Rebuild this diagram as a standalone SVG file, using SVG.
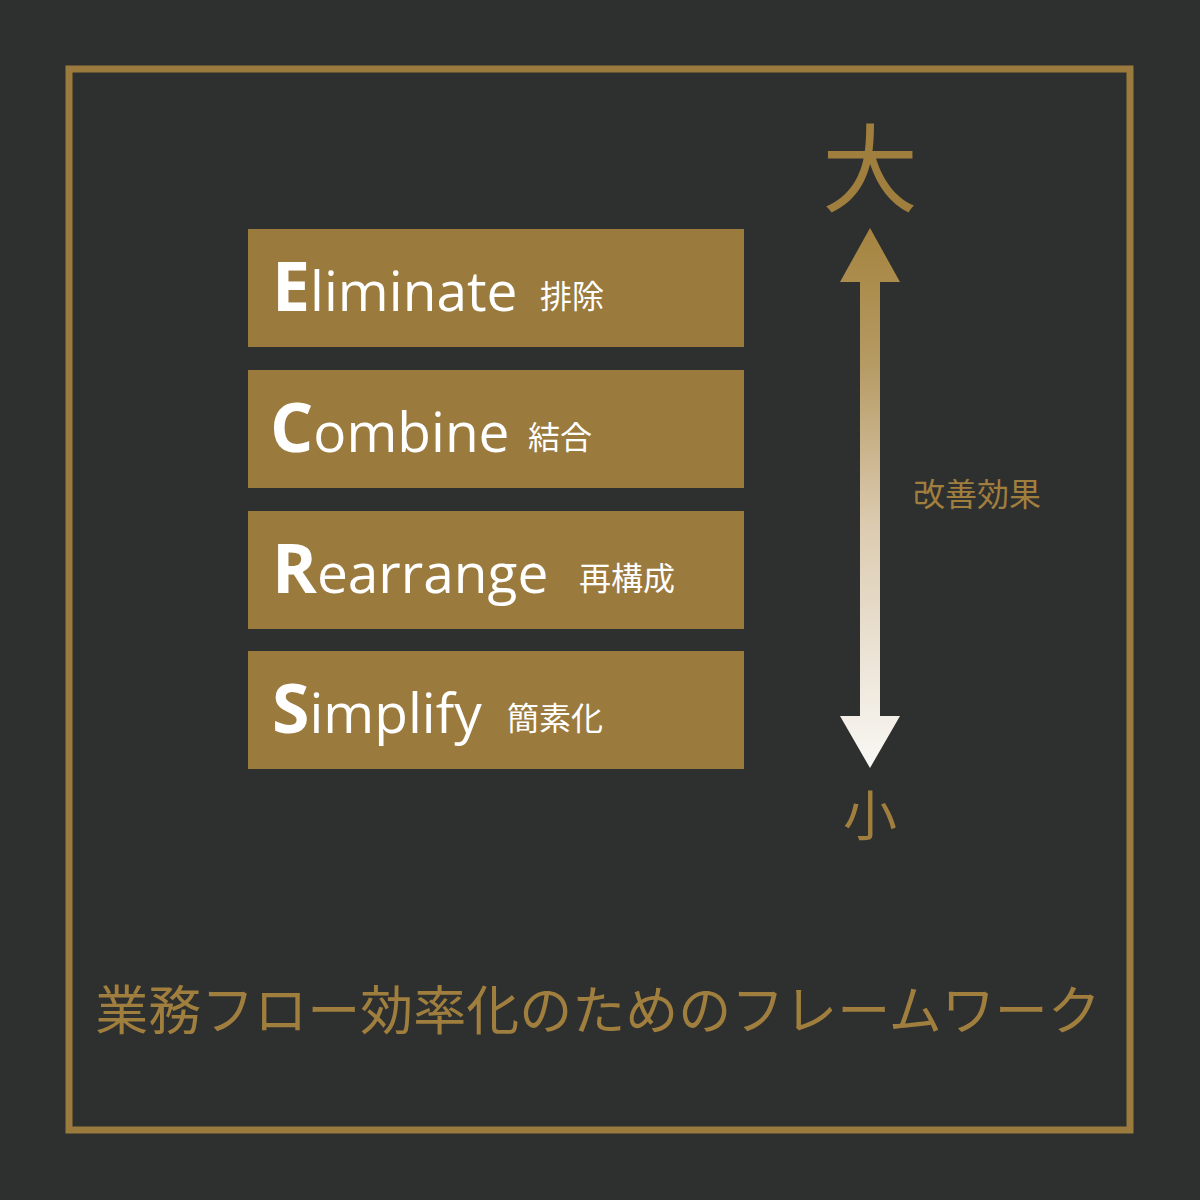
<svg xmlns="http://www.w3.org/2000/svg" width="1200" height="1200" viewBox="0 0 1200 1200">
<defs>
<style>
.box{fill:#9b7a3d}
.en{font-family:"Open Sans","Noto Sans",sans-serif;fill:#ffffff}
.cap{font-weight:bold;font-size:68px}
.low{font-size:55px}
.jp{font-family:"Noto Sans CJK JP",sans-serif;fill:#ffffff;font-size:32px}
.gold{font-family:"Noto Sans CJK JP",sans-serif;fill:#a07e3e}
</style>
<linearGradient id="g" x1="0" y1="229" x2="0" y2="768" gradientUnits="userSpaceOnUse">
<stop offset="0" stop-color="#a5843f"/>
<stop offset="0.25" stop-color="#b59a63"/>
<stop offset="0.55" stop-color="#dccbb0"/>
<stop offset="1" stop-color="#f9f8f5"/>
</linearGradient>
</defs>
<rect width="1200" height="1200" fill="#2e302f"/>
<rect x="69" y="69" width="1061" height="1061" fill="none" stroke="#9b7a3d" stroke-width="7"/>
<g id="n1">
<rect class="box" x="248" y="229" width="496" height="118"/>
<text class="en" x="272" y="311"><tspan class="cap">E</tspan><tspan class="low">liminate</tspan></text>
<text class="jp" x="540" y="308">排除</text>
</g>
<g id="n2">
<rect class="box" x="248" y="370" width="496" height="118"/>
<text class="en" x="270" y="452"><tspan class="cap">C</tspan><tspan class="low">ombine</tspan></text>
<text class="jp" x="528" y="449">結合</text>
</g>
<g id="n3">
<rect class="box" x="248" y="511" width="496" height="118"/>
<text class="en" x="272" y="593"><tspan class="cap">R</tspan><tspan class="low">earrange</tspan></text>
<text class="jp" x="579" y="590">再構成</text>
</g>
<g id="n4">
<rect class="box" x="248" y="651" width="496" height="118"/>
<text class="en" x="272" y="733"><tspan class="cap">S</tspan><tspan class="low">implify</tspan></text>
<text class="jp" x="507" y="730">簡素化</text>
</g>
<g id="connectors">
<path d="M870 228 L900 282 L880 282 L880 716 L900 716 L870 768 L840 716 L860 716 L860 282 L840 282 Z" fill="url(#g)"/>
</g>
<text class="gold" x="870" y="204" font-size="96" text-anchor="middle">大</text>
<text class="gold" x="870" y="836" font-size="54" text-anchor="middle">小</text>
<text class="gold" x="977" y="506" font-size="32" text-anchor="middle">改善効果</text>
<text class="gold" x="598" y="1030" font-size="53" text-anchor="middle">業務フロー効率化のためのフレームワーク</text>
</svg>
